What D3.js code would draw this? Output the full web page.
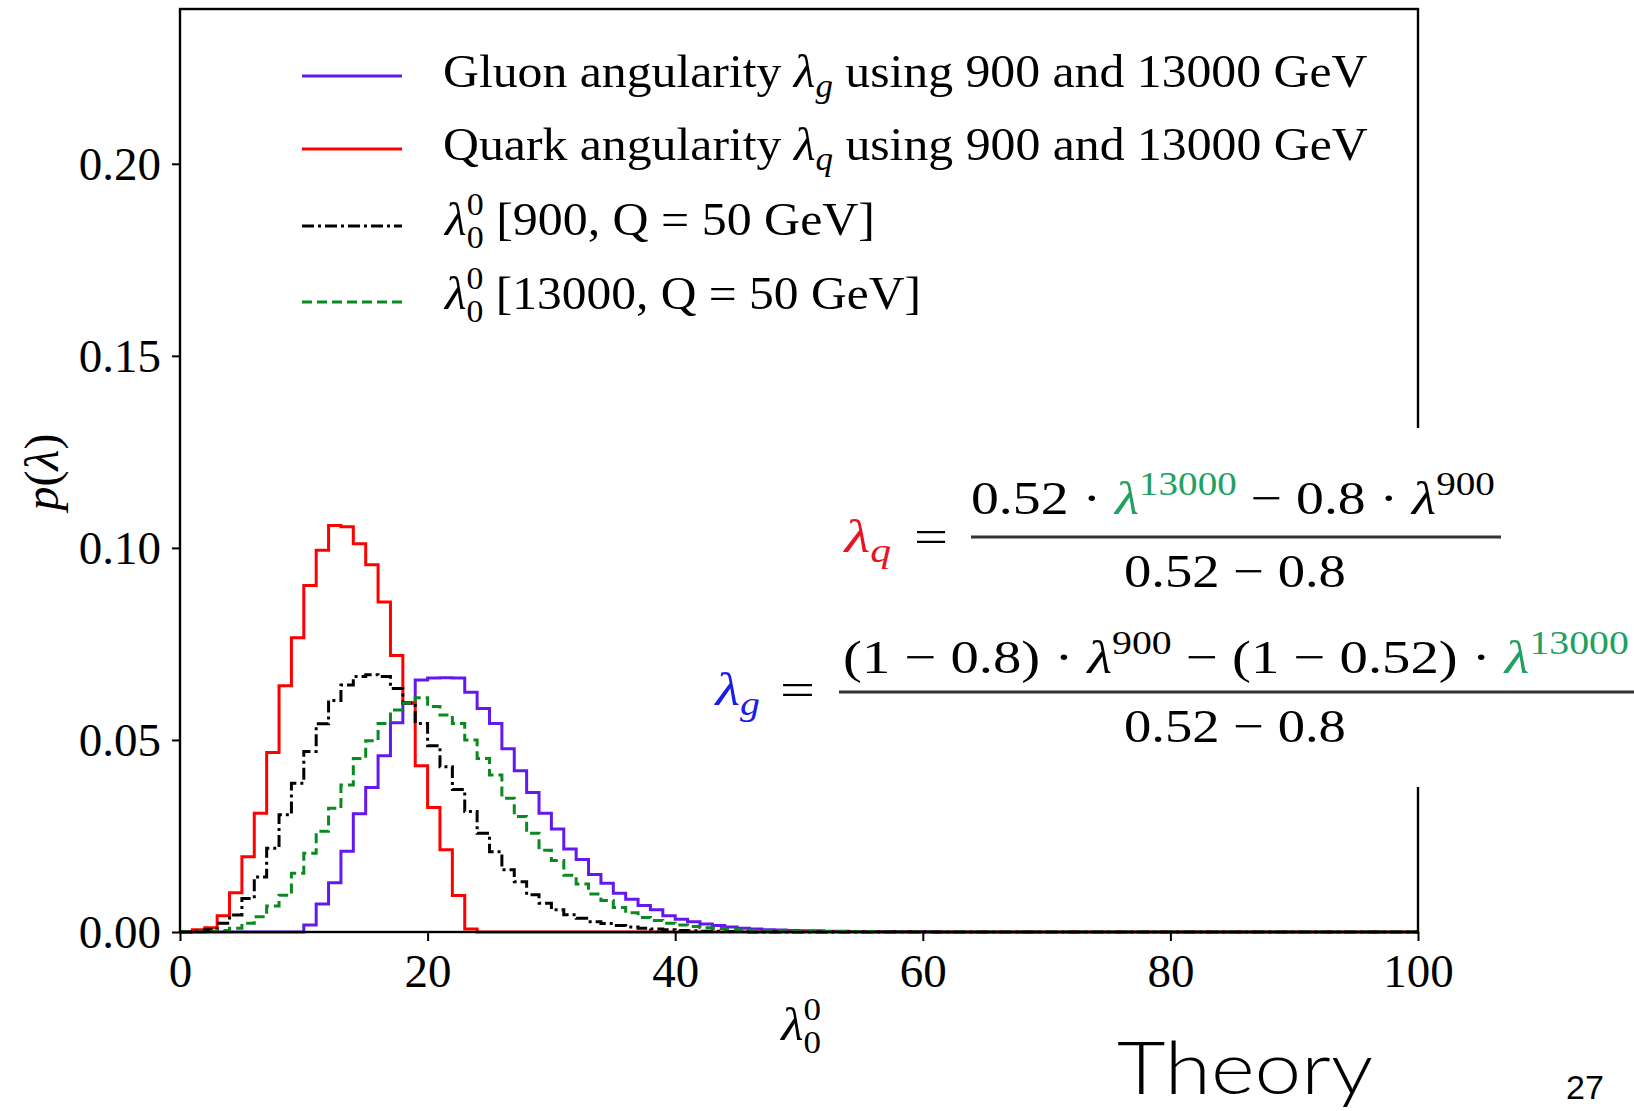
<!DOCTYPE html>
<html><head><meta charset="utf-8">
<script src="https://cdn.jsdelivr.net/npm/d3@7"></script>
<style>html,body{margin:0;padding:0;background:#fff;} svg{display:block;} text{white-space:pre;}</style>
</head><body>
<svg id="chart" width="1634" height="1111"></svg>
<script>
// ---------------- data (bin width 1 on [0,100]; bins after the listed ones are empty) ----------------
const binEdges = d3.range(0, 101, 1);
const gluon = [0,0,0,0,0,0,0,0,0,0,
  0.0018,0.0073,0.0128,0.0210,0.0308,0.0376,0.0459,0.0545,0.0596,0.0656,
  0.0661,0.0662,0.0661,0.0624,0.0582,0.0543,0.0477,0.0420,0.0363,0.0309,
  0.0268,0.0216,0.0189,0.0150,0.0127,0.0101,0.0085,0.0069,0.0058,0.0042,
  0.0033,0.0027,0.0021,0.0017,0.0013,0.0010,0.0008,0.0006,0.0005,0.0004,
  0.0003,0.0003,0.0002,0.0002,0.0001,0.0001,0.0001,0.0001,0.0001,0.0001,0.0001];
const quark = [0,0.0006,0.0011,0.0042,0.0102,0.0196,0.0309,0.0467,0.0641,0.0766,
  0.0902,0.0994,0.1058,0.1055,0.1011,0.0956,0.0859,0.0720,0.0596,0.0433,
  0.0324,0.0214,0.0095,0.0008];
const lam900 = [0,0.0002,0.0006,0.0023,0.0044,0.0087,0.0143,0.0218,0.0305,0.0387,
  0.0470,0.0542,0.0603,0.0643,0.0665,0.0670,0.0665,0.0634,0.0596,0.0543,
  0.0485,0.0430,0.0371,0.0314,0.0257,0.0209,0.0162,0.0131,0.0097,0.0075,
  0.0058,0.0045,0.0036,0.0027,0.0022,0.0017,0.0013,0.0010,0.0008,0.0006,
  0.0004,0.0003,0.0002,0.0002,0.0001,0.0001];
const lam13000 = [0,0,0.0001,0.0004,0.0010,0.0023,0.0040,0.0068,0.0096,0.0153,
  0.0205,0.0262,0.0322,0.0383,0.0452,0.0498,0.0543,0.0578,0.0596,0.0610,
  0.0587,0.0565,0.0543,0.0500,0.0452,0.0409,0.0348,0.0301,0.0257,0.0213,
  0.0186,0.0148,0.0125,0.0099,0.0082,0.0064,0.0050,0.0038,0.0030,0.0023,
  0.0018,0.0014,0.0011,0.0009,0.0007,0.0005,0.0004,0.0003,0.0003,0.0002,
  0.0002,0.0001,0.0001,0.0001,0.0001,0.0001];
const xTicks = [0,20,40,60,80,100];
const xTickLabels = ["0","20","40","60","80","100"];
const yTicks = [0,0.05,0.10,0.15,0.20];
const yTickLabels = ["0.00","0.05","0.10","0.15","0.20"];

// ---------------- setup ----------------
const svg = d3.select("#chart");
const serif = "'Liberation Serif','Times New Roman',serif";
const x = d3.scaleLinear().domain([0,100]).range([180,1418]);
const y = d3.scaleLinear().domain([0,0.2403]).range([932,9]);
const nBins = binEdges.length - 1;

const series = [
  {values: gluon,    color: "#6418f0", dash: null},
  {values: quark,    color: "#ff0000", dash: null},
  {values: lam900,   color: "#000000", dash: "12,4,3,4"},
  {values: lam13000, color: "#0a8a1e", dash: "10,5"}
];

function stepPoints(vals){
  const pts = [[binEdges[0],0]];
  for (let i=0;i<nBins;i++){
    const v = i < vals.length ? vals[i] : 0;
    pts.push([binEdges[i],v]); pts.push([binEdges[i+1],v]);
  }
  pts.push([binEdges[nBins],0]);
  return pts;
}
const line = d3.line().x(d=>x(d[0])).y(d=>y(d[1]));

const plot = svg.append("g");
series.forEach(s=>{
  plot.append("path").attr("d", line(stepPoints(s.values)))
    .attr("fill","none").attr("stroke",s.color).attr("stroke-width",3)
    .attr("stroke-dasharray", s.dash).attr("stroke-linejoin","miter");
});

// frame
svg.append("rect").attr("x",x(0)).attr("y",y.range()[1]).attr("width",x(100)-x(0))
  .attr("height",y(0)-y.range()[1]).attr("fill","none").attr("stroke","#000").attr("stroke-width",2.4);

// axes
const gy = svg.append("g").attr("transform",`translate(${x(0)},0)`)
  .call(d3.axisLeft(y).tickValues(yTicks).tickFormat((d,i)=>yTickLabels[i]).tickSize(8).tickPadding(11));
gy.select(".domain").remove();
gy.selectAll(".tick line").attr("stroke","#000").attr("stroke-width",2);
gy.selectAll(".tick text").attr("font-family",serif).attr("font-size",47).attr("fill","#000").attr("dy","0.33em");

const gx = svg.append("g").attr("transform",`translate(0,${y(0)})`)
  .call(d3.axisBottom(x).tickValues(xTicks).tickFormat((d,i)=>xTickLabels[i]).tickSize(9));
gx.select(".domain").remove();
gx.selectAll(".tick line").attr("stroke","#000").attr("stroke-width",2);
gx.selectAll(".tick text").attr("font-family",serif).attr("font-size",47).attr("fill","#000")
  .attr("dy",null).attr("y",55);

// helper: build text in a group then fit to width
function fitGroup(parent, build, x0, width){
  const g = parent.append("g");
  build(g);
  const bb = g.node().getBBox();
  g.attr("transform",`translate(${x0},0) scale(${width/bb.width},1) translate(${-bb.x},0)`);
  return g;
}
function mk(g, yb, size){ return g.append("text").attr("x",0).attr("y",yb).attr("font-family",serif).attr("font-size",size||47).attr("fill","#000"); }

// axis labels
fitGroup(svg, g=>{
  const t = mk(g,1040);
  t.append("tspan").attr("font-style","italic").text("λ");
  t.append("tspan").attr("font-size",32).attr("dy",-20).text("0");
  t.append("tspan").attr("font-size",32).attr("dx",-16).attr("dy",33).text("0");
}, 779, 42);

const yl = svg.append("g").attr("transform","translate(58,472) rotate(-90)");
const ylt = yl.append("text").attr("text-anchor","middle").attr("font-family",serif).attr("font-size",48).attr("fill","#000");
ylt.append("tspan").attr("font-style","italic").text("p");
ylt.append("tspan").text("(");
ylt.append("tspan").attr("font-style","italic").text("λ");
ylt.append("tspan").text(")");

// legend
const legend = svg.append("g");
const legRows = [
  {base:87,  lineY:76,  w:925, parts:[["Gluon angularity ",""],["λ","i"],["g","sub"],[" using 900 and 13000 GeV",""]]},
  {base:160, lineY:149, w:925, parts:[["Quark angularity ",""],["λ","i"],["q","sub"],[" using 900 and 13000 GeV",""]]},
  {base:235, lineY:226, w:432, parts:[["λ","i"],["0","sup"],["0","sub2"],[" [900, Q = 50 GeV]",""]]},
  {base:309, lineY:302, w:478, parts:[["λ","i"],["0","sup"],["0","sub2"],[" [13000, Q = 50 GeV]",""]]}
];
legRows.forEach((r,i)=>{
  const s = series[i];
  legend.append("line").attr("x1",302).attr("x2",402).attr("y1",r.lineY).attr("y2",r.lineY)
    .attr("stroke",s.color).attr("stroke-width",3).attr("stroke-dasharray",s.dash);
  fitGroup(legend, g=>{
    const t = mk(g, r.base);
    let shift = 0;
    r.parts.forEach(([txt,kind])=>{
      const ts = t.append("tspan").text(txt);
      if (kind==="i"){ ts.attr("font-style","italic"); if(shift){ts.attr("dy",-shift); shift=0;} }
      else if (kind==="sub"){ ts.attr("font-style","italic").attr("font-size",33).attr("dy",10); shift=10; }
      else if (kind==="sup"){ ts.attr("font-size",32).attr("dy",-20); shift=-20; }
      else if (kind==="sub2"){ ts.attr("font-size",32).attr("dx",-16).attr("dy",33); shift=13; }
      else { if(shift){ ts.attr("dy",-shift); shift=0; } }
    });
  }, 443, r.w);
});

// equations overlay (white panel)
const eq = svg.append("g");
eq.append("rect").attr("x",700).attr("y",428).attr("width",934).attr("height",359).attr("fill","#fff");
const cRed="#e8141e", cBlue="#1c1ce8", cGreen="#22a060";

function pieces(t, list){
  let shift=0;
  list.forEach(([txt,kind,col])=>{
    const ts = t.append("tspan").text(txt);
    if (col) ts.attr("fill",col);
    if (kind==="i"){ ts.attr("font-style","italic"); if(shift){ts.attr("dy",-shift); shift=0;} }
    else if (kind==="sup"){ ts.attr("font-size",33).attr("dy",-19); shift=-19; }
    else if (kind==="sub"){ ts.attr("font-style","italic").attr("font-size",33).attr("dy",10); shift=10; }
    else { if(shift){ ts.attr("dy",-shift); shift=0; } }
  });
}
// lambda_q
fitGroup(eq, g=>pieces(mk(g,552),[["λ","i",cRed],["q","sub",cRed]]), 842, 49);
fitGroup(eq, g=>pieces(mk(g,552),[["=","",null]]), 914, 34);
fitGroup(eq, g=>pieces(mk(g,514),[["0.52 · ","",null],["λ","i",cGreen],["13000","sup",cGreen],[" − 0.8 · ","",null],["λ","i",null],["900","sup",null]]), 971, 524);
eq.append("line").attr("x1",971).attr("x2",1501).attr("y1",537).attr("y2",537).attr("stroke","#333").attr("stroke-width",3);
fitGroup(eq, g=>pieces(mk(g,587),[["0.52 − 0.8","",null]]), 1124, 222);
// lambda_g
fitGroup(eq, g=>pieces(mk(g,705),[["λ","i",cBlue],["g","sub",cBlue]]), 713, 47);
fitGroup(eq, g=>pieces(mk(g,705),[["=","",null]]), 780, 35);
fitGroup(eq, g=>pieces(mk(g,673),[["(1 − 0.8) · ","",null],["λ","i",null],["900","sup",null],[" − (1 − 0.52) · ","",null],["λ","i",cGreen],["13000","sup",cGreen]]), 843, 786);
eq.append("line").attr("x1",839).attr("x2",1634).attr("y1",692).attr("y2",692).attr("stroke","#333").attr("stroke-width",3);
fitGroup(eq, g=>pieces(mk(g,742),[["0.52 − 0.8","",null]]), 1124, 222);

// slide footer
fitGroup(svg, g=>g.append("text").attr("y",1094).attr("font-family","Lato,'Open Sans',sans-serif").attr("font-weight",300).attr("font-size",72).attr("fill","#000").text("Theory"), 1117, 256);
svg.append("text").attr("x",1566).attr("y",1099).attr("font-family","'Liberation Sans',Arial,sans-serif").attr("font-size",34).attr("fill","#000").text("27");
</script>
</body></html>
